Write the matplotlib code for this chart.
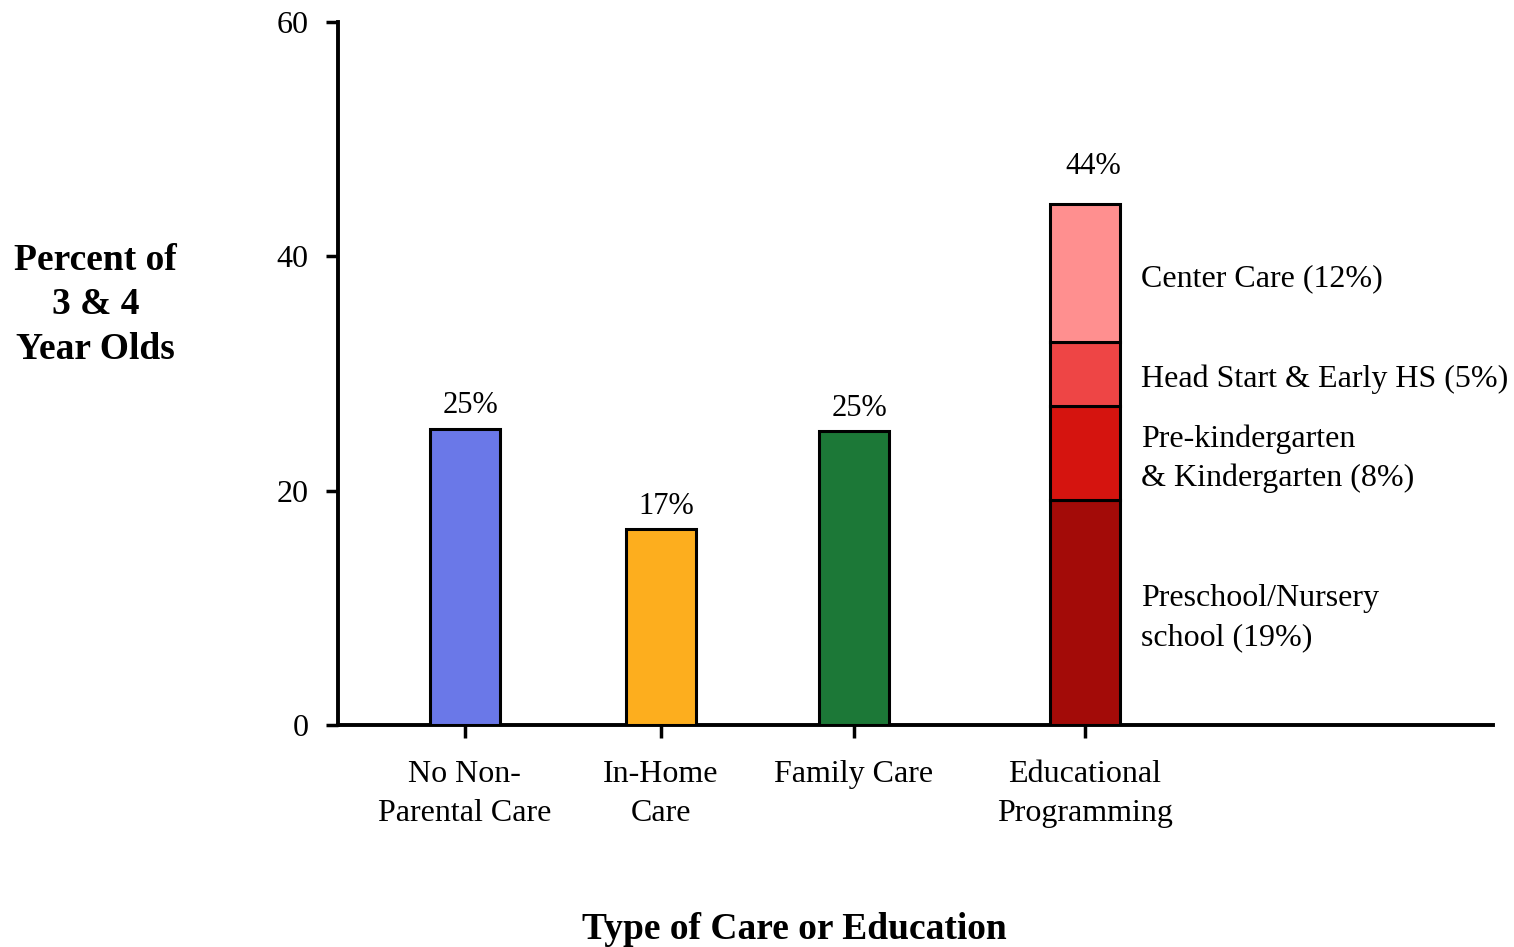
import matplotlib.pyplot as plt

plt.rcParams["font.family"] = ["Liberation Serif", "DejaVu Serif"]

categories = ["No Non-\nParental Care", "In-Home\nCare", "Family Care", "Educational\nProgramming"]
single_values = [25.3, 16.7, 25.1]
single_labels = ["25%", "17%", "25%"]
single_colors = ["#6A78E8", "#FDAE1E", "#1C7837"]

edu_parts = ["Preschool/Nursery\nschool (19%)", "Pre-kindergarten\n& Kindergarten (8%)",
             "Head Start & Early HS (5%)", "Center Care (12%)"]
edu_values = [19.2, 8.0, 5.5, 11.8]
edu_colors = ["#A30B08", "#D5140F", "#EE4545", "#FF8F8F"]
edu_total_label = "44%"

# bar centres in axis units (pixel-ish spacing of the original)
xpos = [127, 323, 516, 747]
width = 70


def main():
    fig = plt.figure(figsize=(15.14, 9.47), dpi=100)
    ax = fig.add_axes([0.2232, 0.2344, 0.7629, 0.7424])

    # --- simple bars ---
    for x, v, c, lab in zip(xpos[:3], single_values, single_colors, single_labels):
        ax.bar(x, v, width=width, color=c, edgecolor="black", linewidth=2.2, zorder=3)
        ax.annotate(lab, (x, v), xytext=(4, 6), textcoords="offset points",
                    ha="center", va="bottom", fontsize=22)

    # --- stacked educational bar ---
    bottom = 0
    for v, c, lab in zip(edu_values, edu_colors, edu_parts):
        ax.bar(xpos[3], v, width=width, bottom=bottom, color=c,
               edgecolor="black", linewidth=2.2, zorder=3)
        ax.annotate(lab, (xpos[3] + width / 2, bottom + v / 2), xytext=(15, -4),
                    textcoords="offset points", ha="left", va="center",
                    fontsize=23, linespacing=1.45)
        bottom += v
    ax.annotate(edu_total_label, (xpos[3], bottom), xytext=(6, 16),
                textcoords="offset points", ha="center", va="bottom", fontsize=22)

    ax.set_xlim(0, 1155)
    ax.set_ylim(0, 60)
    ax.set_yticks([0, 20, 40, 60])
    ax.set_xticks(xpos)
    ax.set_xticklabels(categories, fontsize=23, linespacing=1.45)
    ax.tick_params(axis="y", labelsize=23, direction="out", length=9, width=2.5, pad=12)
    ax.tick_params(axis="x", direction="out", length=9, width=2.5, pad=16)

    for s in ["top", "right"]:
        ax.spines[s].set_visible(False)
    for s in ["left", "bottom"]:
        ax.spines[s].set_linewidth(2.8)

    fig.text(0.063, 0.678, "Percent of\n3 & 4\nYear Olds", ha="center", va="center",
             fontsize=27, fontweight="bold", linespacing=1.34)
    fig.text(0.525, 0.018, "Type of Care or Education", ha="center", va="center",
             fontsize=27, fontweight="bold")

    fig.savefig("out.png", dpi=100)


if __name__ == "__main__":
    main()
